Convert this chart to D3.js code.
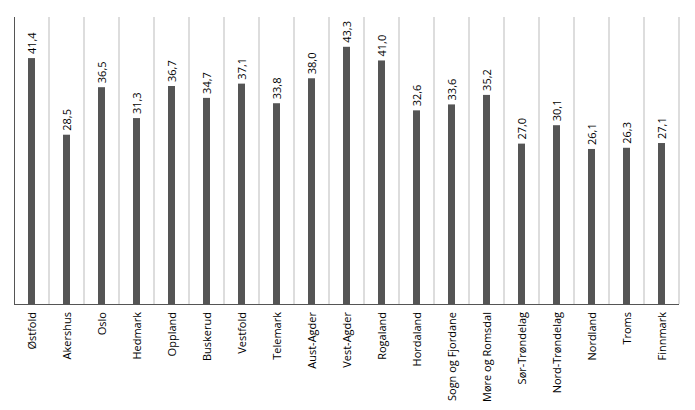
<!DOCTYPE html><html><head><meta charset="utf-8"><script src="https://cdn.jsdelivr.net/npm/d3@7"></script>
<style>body{margin:0;background:#fff}text{font-family:"Open Sans",sans-serif;fill:#000}</style></head><body><svg width="695" height="410"></svg><script>
const categories=["Østfold","Akershus","Oslo","Hedmark","Oppland","Buskerud","Vestfold","Telemark","Aust-Agder","Vest-Agder","Rogaland","Hordaland","Sogn og Fjordane","Møre og Romsdal","Sør-Trøndelag","Nord-Trøndelag","Nordland","Troms","Finnmark"];
const values=[41.4,28.5,36.5,31.3,36.7,34.7,37.1,33.8,38.0,43.3,41.0,32.6,33.6,35.2,27.0,30.1,26.1,26.3,27.1];
const svg=d3.select("svg");
const x=d3.scaleBand().domain(categories).range([14,679]);
const y=d3.scaleLinear().domain([0,50]).range([304,7]);
const g=svg.append("g");
g.selectAll("line.grid").data(categories).join("line").attr("x1",d=>x(d)+x.bandwidth()).attr("x2",d=>x(d)+x.bandwidth()).attr("y1",17).attr("y2",304).attr("stroke","#bbb").attr("stroke-width",1);
g.selectAll("rect").data(values).join("rect").attr("x",(d,i)=>x(categories[i])+x.bandwidth()/2-3.5).attr("width",7).attr("y",d=>y(d)).attr("height",d=>304-y(d)).attr("fill","#555");
g.selectAll("text.v").data(values).join("text").attr("transform",(d,i)=>`translate(${x(categories[i])+x.bandwidth()/2+4},${y(d)-4}) rotate(-90)`).attr("font-size",11).text(d=>d.toFixed(1).replace(".",","));
g.append("line").attr("x1",14).attr("x2",679).attr("y1",304.5).attr("y2",304.5).attr("stroke","#555");
g.append("line").attr("x1",14.5).attr("x2",14.5).attr("y1",17).attr("y2",304).attr("stroke","#555");
g.selectAll("text.c").data(categories).join("text").attr("text-anchor","end").attr("transform",d=>`translate(${x(d)+x.bandwidth()/2+4},312) rotate(-90)`).attr("font-size",11).text(d=>d);
</script></body></html>
